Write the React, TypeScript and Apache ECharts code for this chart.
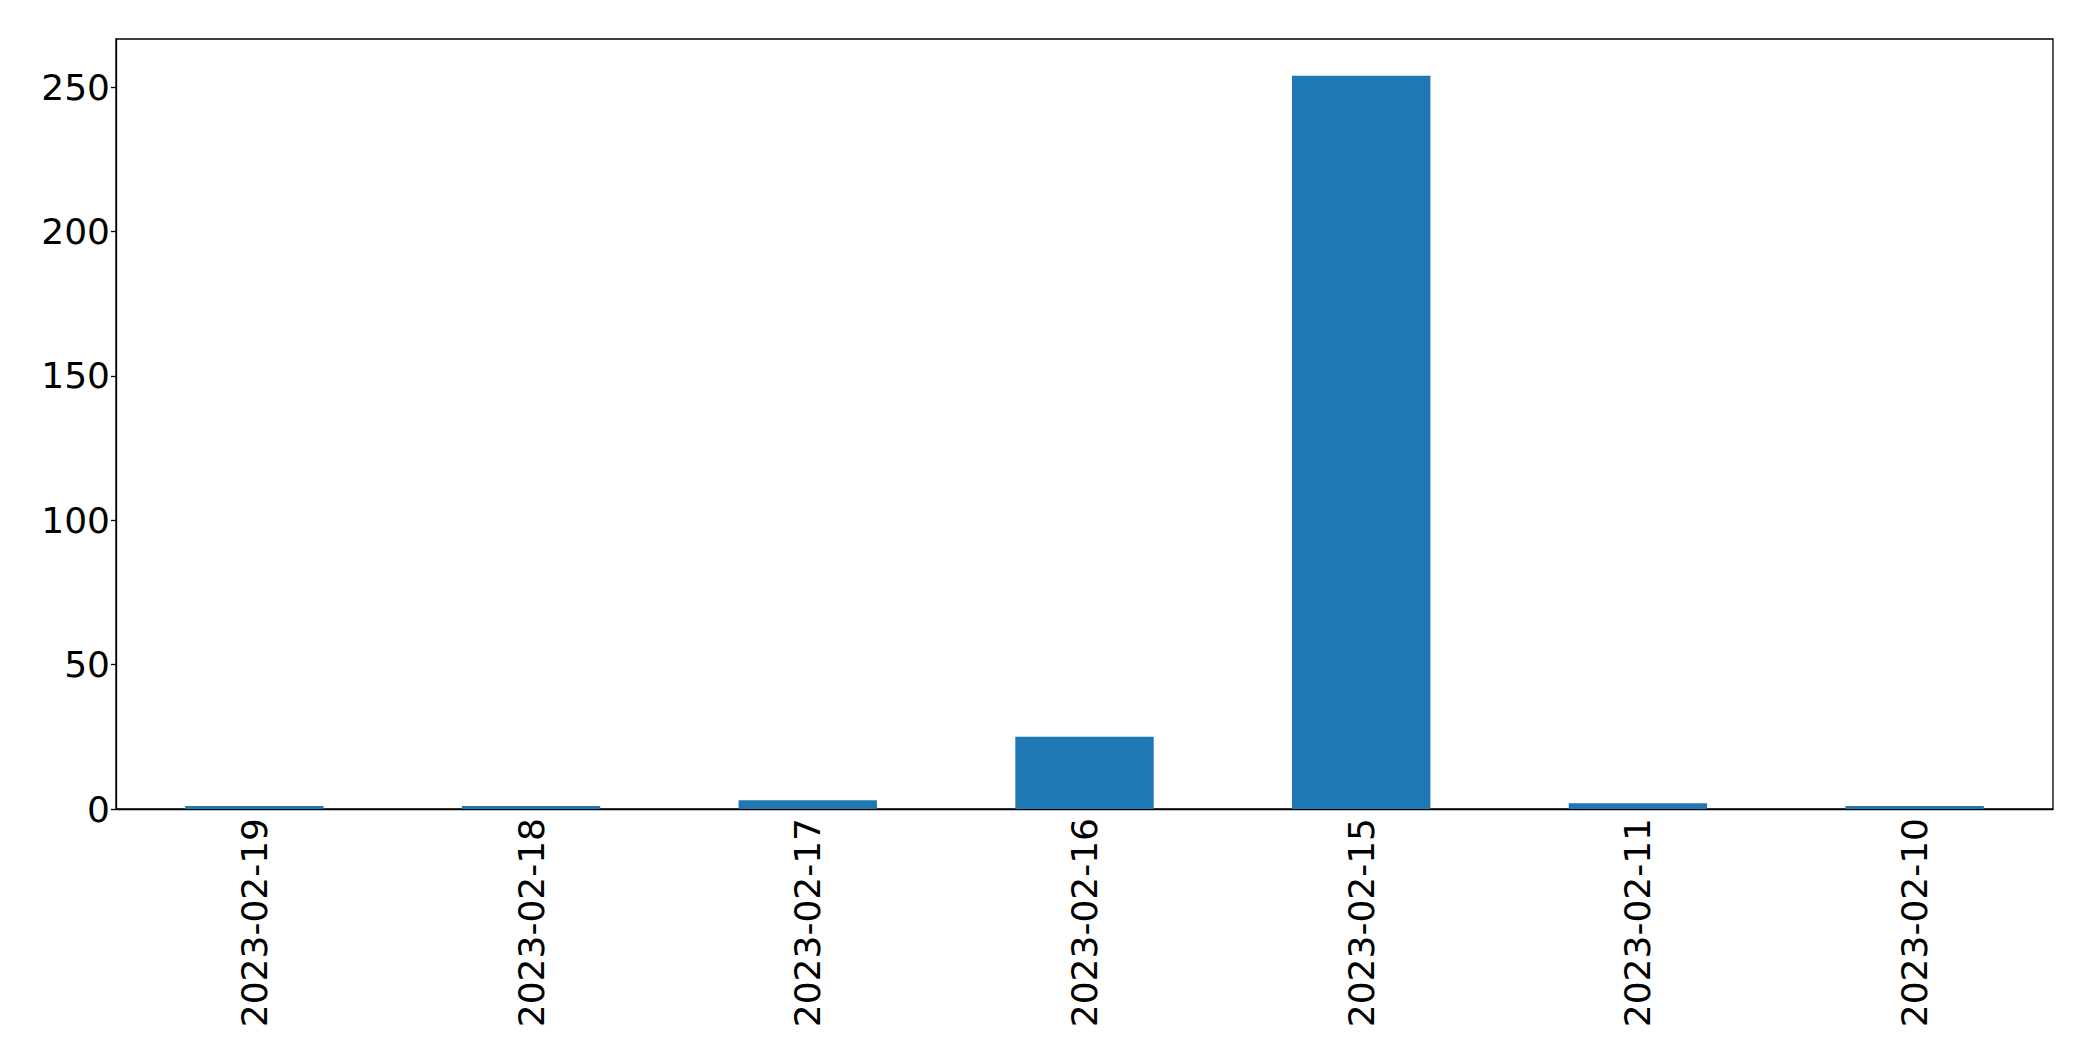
import React, { useEffect, useRef } from "react";
import * as echarts from "echarts";

const categories = ["2023-02-19", "2023-02-18", "2023-02-17", "2023-02-16", "2023-02-15", "2023-02-11", "2023-02-10"];
const values = [1, 1, 3, 25, 254, 2, 1];
const yTicks = [0, 50, 100, 150, 200, 250];

export default function App() {
  const ref = useRef<HTMLDivElement>(null);
  useEffect(() => {
    if (!ref.current) return;
    const chart = echarts.init(ref.current, undefined, { renderer: "svg" });
    const font = "'DejaVu Sans', sans-serif";
    chart.setOption({
      animation: false,
      backgroundColor: "#ffffff",
      grid: {
        left: 116,
        right: 40,
        top: 39,
        bottom: 252,
        show: true,
        borderColor: "#000000",
        borderWidth: 1.3,
        containLabel: false,
      },
      xAxis: {
        type: "category",
        data: categories,
        axisLine: { lineStyle: { color: "#000000", width: 1.3 } },
        axisTick: { alignWithLabel: true, length: 5, lineStyle: { color: "#000000", width: 1.3 } },
        axisLabel: { rotate: 90, color: "#000000", fontSize: 36, fontFamily: font, margin: 9, interval: 0 },
        splitLine: { show: false },
      },
      yAxis: {
        type: "value",
        min: 0,
        max: 266.7,
        interval: 50,
        axisLine: { show: true, lineStyle: { color: "#000000", width: 1.3 } },
        axisTick: { show: true, length: 5, lineStyle: { color: "#000000", width: 1.3 } },
        axisLabel: {
          color: "#000000",
          fontSize: 36,
          fontFamily: font,
          margin: 6,
          showMaxLabel: false,
          formatter: (v: number) => (yTicks.includes(v) ? String(v) : ""),
        },
        splitLine: { show: false },
      },
      series: [
        {
          type: "bar",
          data: values,
          barWidth: "50%",
          itemStyle: { color: "#1f77b4" },
        },
      ],
    });
    return () => chart.dispose();
  }, []);
  return <div ref={ref} style={{ position: "fixed", left: 0, top: 0, width: 2093, height: 1061 }} />;
}
